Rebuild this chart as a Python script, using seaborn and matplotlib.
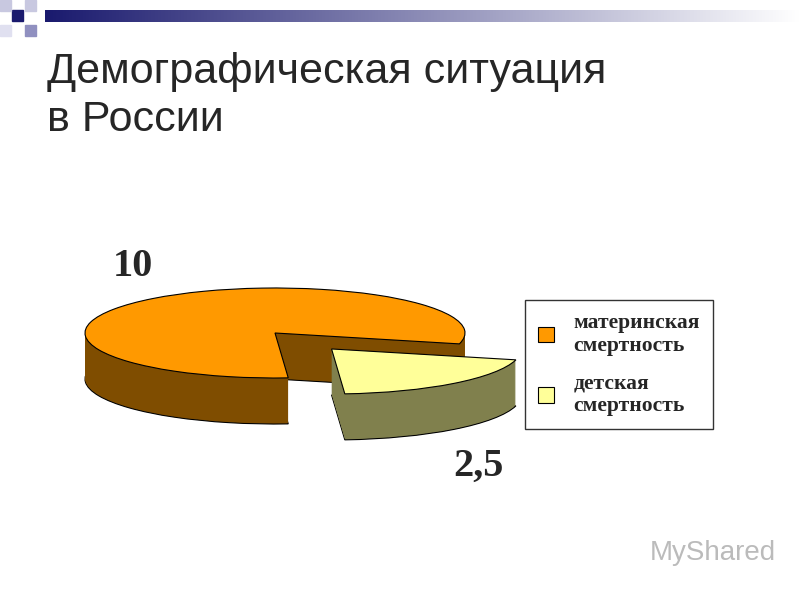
import numpy as np
import matplotlib.pyplot as plt
import seaborn as sns
from matplotlib.patches import Rectangle, Patch

sns.set_theme(style="white")

# data
categories = ["материнская\nсмертность", "детская\nсмертность"]
values = [10, 2.5]
value_labels = ["10", "2,5"]
top_colors = ["#FF9900", "#FFFF99"]
side_colors = ["#7F4D00", "#80804D"]

title = "Демографическая ситуация\nв России"

fig = plt.figure(figsize=(8, 6), dpi=100)
ax = fig.add_axes([0, 0, 1, 1])

k = 45 / 190  # vertical squash of the pie ellipse
cx, cy = 275, (600 - 333) / k
radius = 190
depth = 46
# pie's explode offset is in data units here (not scaled by radius)
explode = [0, 88]

# side walls: stacked pies from bottom to top
for d in range(depth, 0, -1):
    ax.pie(values, colors=side_colors, startangle=-14, explode=explode,
           radius=radius, center=(cx, cy - d / k),
           wedgeprops=dict(linewidth=0.8 if d == depth else 0, edgecolor="black"))
ax.pie(values, colors=top_colors, startangle=-14, explode=explode,
       radius=radius, center=(cx, cy),
       wedgeprops=dict(linewidth=0.8, edgecolor="black"))

ax.set_aspect("auto")
ax.set_xlim(0, 800)
ax.set_ylim(0, 600 / k)
ax.axis("off")

# value labels
fig.text(133 / 800, 1 - 266 / 600, value_labels[0], fontsize=29, fontweight="bold",
         family="Liberation Serif", ha="center", va="center")
fig.text(478 / 800, 1 - 466 / 600, value_labels[1], fontsize=29, fontweight="bold",
         family="Liberation Serif", ha="center", va="center")

# title
fig.text(47 / 800, 1 - 52 / 600, title, fontsize=31, family="Liberation Sans",
         ha="left", va="top", linespacing=1.25)

# legend
handles = [Patch(facecolor=c, edgecolor="black", linewidth=0.8) for c in top_colors]
leg = fig.legend(handles, categories, loc="upper left",
                 bbox_to_anchor=(525 / 800, 1 - 300 / 600), borderaxespad=0,
                 frameon=True, fancybox=False, edgecolor="black", handlelength=0.75,
                 handleheight=0.75, labelspacing=0.8, borderpad=0.6,
                 handletextpad=0.9,
                 prop=dict(family="Liberation Serif", weight="bold", size=15.5))
leg.get_frame().set_linewidth(1.0)

# slide decoration
grad = np.linspace(0, 1, 256).reshape(1, -1)
deco = fig.add_axes([45 / 800, 1 - 22 / 600, 755 / 800, 12 / 600])
deco.imshow(grad, aspect="auto", cmap=sns.blend_palette(["#1A1A6E", "#FFFFFF"], as_cmap=True))
deco.axis("off")
for (x, y, c) in [(12, 10, "#1A1A6E"), (0, 0, "#C8C8E0"), (25, 0, "#C8C8E0"),
                  (25, 25, "#9090C0"), (0, 25, "#E0E0F0")]:
    fig.patches.append(Rectangle((x / 800, 1 - (y + 11) / 600), 11 / 800, 11 / 600,
                                 transform=fig.transFigure, color=c))

fig.text(650 / 800, 1 - 553 / 600, "MyShared", fontsize=20, color="#BBBBBB",
         family="Liberation Sans", ha="left", va="center")

fig.savefig("out.png", dpi=100)
